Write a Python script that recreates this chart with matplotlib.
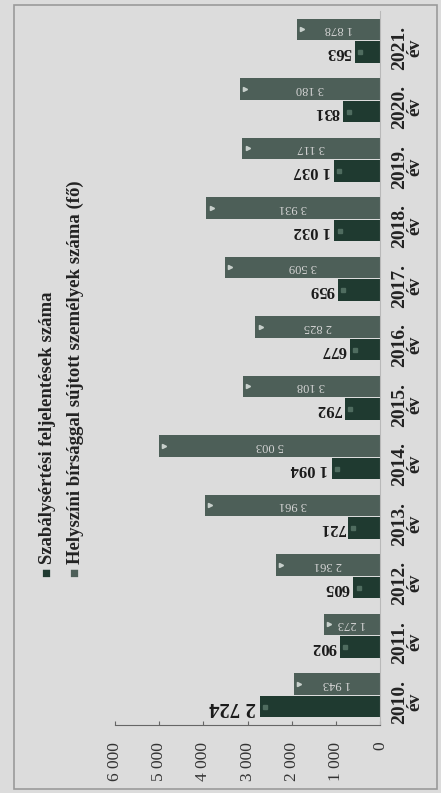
import numpy as np
import matplotlib.pyplot as plt
from matplotlib.patches import Rectangle

years = ['2010.', '2011.', '2012.', '2013.', '2014.', '2015.',
         '2016.', '2017.', '2018.', '2019.', '2020.', '2021.']
feljelentes = [2724, 902, 605, 721, 1094, 792, 677, 959, 1032, 1037, 831, 563]
birsag = [1943, 1273, 2361, 3961, 5003, 3108, 2825, 3509, 3931, 3117, 3180, 1878]
series_names = ['Szabálysértési feljelentések száma',
                'Helyszíni bírsággal sújtott személyek száma (fő)']
value_ticks = [0, 1000, 2000, 3000, 4000, 5000, 6000]

plt.rcParams['font.family'] = ['Liberation Serif', 'DejaVu Serif']

dark = '#1f3a30'
light = '#4d5f58'
bg = '#dcdcdc'


def fmt(v):
    return f"{v:,}".replace(',', ' ')


fig = plt.figure(figsize=(4.41, 7.93), dpi=100, facecolor=bg)
fig.patches.append(Rectangle((14/441, 1-789/793), 423/441, 784/793,
                             transform=fig.transFigure, fill=False,
                             edgecolor='#9a9a9a', lw=1.2))

ax = fig.add_axes([115/441, 68/793, 265/441, 714/793])
ax.set_facecolor(bg)

y = np.arange(len(years))
h = 0.36
ax.barh(y - 0.19, feljelentes, height=h, color=dark)
ax.barh(y + 0.19, birsag, height=h, color=light)

# small markers near the bar ends
ax.plot(np.array(birsag) - 120, y + 0.19, '>', ms=3, color='#c8d0cc', lw=0)
ax.plot(np.array(feljelentes) - 120, y - 0.19, 's', ms=3, color='#4f6c5f', lw=0)

for i, v in enumerate(feljelentes):
    ax.text(v + 80, i - 0.19, fmt(v), rotation=180, ha='right', va='center',
            fontsize=15 if i == 0 else 12, fontweight='bold', color='#1a1a1a')
for i, v in enumerate(birsag):
    ax.text(v / 2, i + 0.19, fmt(v), rotation=180, ha='center', va='center',
            fontsize=9, color='#d4d4d4')

ax.set_xlim(6000, 0)
ax.set_ylim(-0.5, len(years) - 0.5)

ax.set_xticks(value_ticks)
ax.set_xticklabels([fmt(v) for v in value_ticks], rotation=90, fontsize=12.5,
                   color='#333333')
ax.tick_params(axis='x', direction='in', length=3, color='#666666', pad=12)

ax.yaxis.tick_right()
ax.set_yticks(y)
ax.set_yticklabels([f"{yr}\név" for yr in years], rotation=90, fontsize=14,
                   fontweight='bold', color='#222222', ma='center',
                   linespacing=0.85)
ax.tick_params(axis='y', length=0, pad=8)

for s in ['top', 'left']:
    ax.spines[s].set_visible(False)
ax.spines['right'].set_color('#b8b8b8')
ax.spines['bottom'].set_color('#666666')
ax.spines['bottom'].set_linewidth(0.8)

# legend, rotated like the rest of the chart
for name, col, xp in zip(series_names, [dark, light], [47, 75]):
    fig.text(xp/441, 1-572/793, '■', rotation=90, color=col, fontsize=11,
             ha='center', va='center')
    fig.text(xp/441, 1-564/793, name, rotation=90, rotation_mode='anchor',
             ha='left', va='center', fontsize=13.5, fontweight='bold',
             color='#222222')

fig.savefig('out.png', dpi=100, facecolor=bg)
